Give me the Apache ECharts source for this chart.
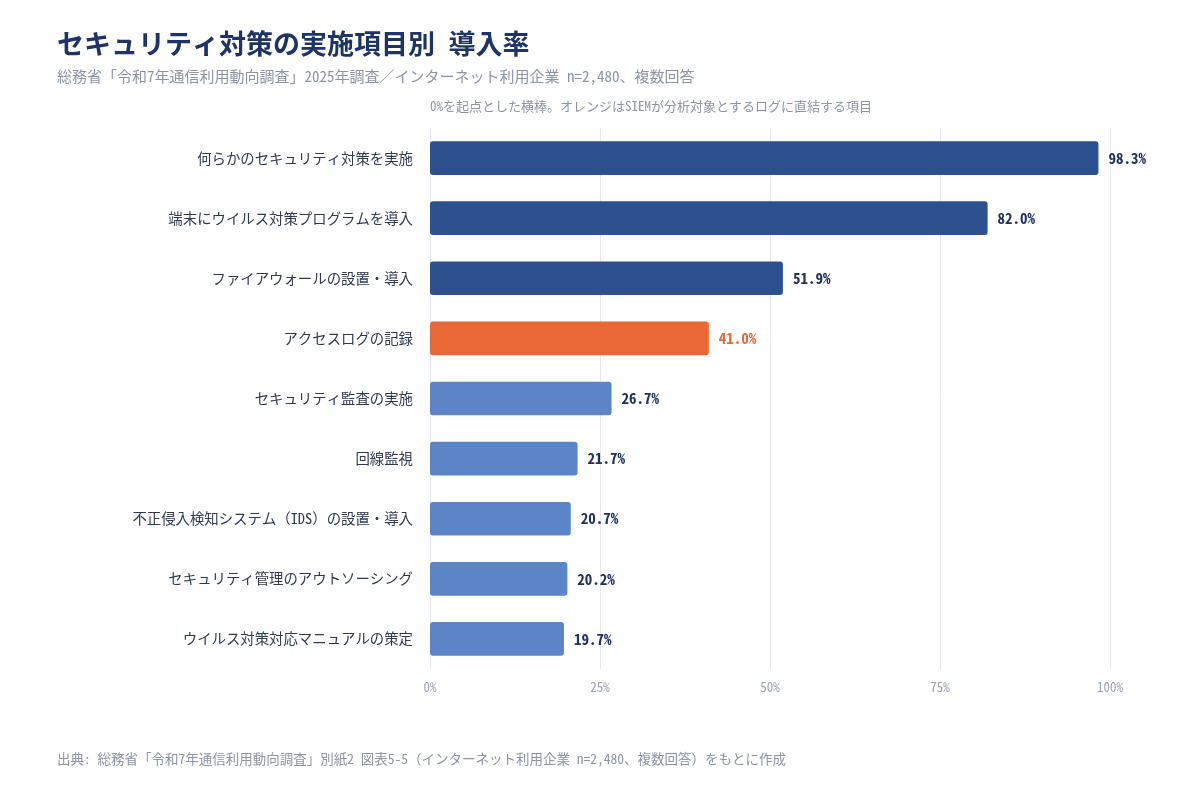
<!DOCTYPE html>
<html><head><meta charset="utf-8">
<script src="https://cdn.jsdelivr.net/npm/echarts@6/dist/echarts.min.js"></script>
<style>html,body{margin:0;padding:0;background:#fff}#c{width:1200px;height:800px}</style>
</head><body><div id="c"></div>
<script>
const categories = [
  "何らかのセキュリティ対策を実施",
  "端末にウイルス対策プログラムを導入",
  "ファイアウォールの設置・導入",
  "アクセスログの記録",
  "セキュリティ監査の実施",
  "回線監視",
  "不正侵入検知システム（IDS）の設置・導入",
  "セキュリティ管理のアウトソーシング",
  "ウイルス対策対応マニュアルの策定"
];
const values = [98.3, 82.0, 51.9, 41.0, 26.7, 21.7, 20.7, 20.2, 19.7];
const groups = ["top", "top", "top", "siem", "other", "other", "other", "other", "other"];
const xTicks = [0, 25, 50, 75, 100];

const FONT = "'Noto Sans Mono CJK JP','Noto Sans CJK JP',monospace";
const colorMap = { top: "#2d518f", siem: "#ea6835", other: "#5c85c8" };
const labelColorMap = { top: "#1f3160", siem: "#ea6835", other: "#1f3160" };

const chart = echarts.init(document.getElementById('c'));
chart.setOption({
  backgroundColor: '#fff',
  textStyle: { fontFamily: FONT },
  title: [
    { text: "セキュリティ対策の実施項目別 導入率", left: 57, top: 30, padding: 0,
      textStyle: { fontFamily: FONT, fontSize: 27, fontWeight: 'bold', color: '#1e3466' } },
    { text: "総務省「令和7年通信利用動向調査」2025年調査／インターネット利用企業 n=2,480、複数回答", left: 57, top: 69, padding: 0,
      textStyle: { fontFamily: FONT, fontSize: 15, fontWeight: 'normal', color: '#8c94a6' } },
    { text: "0%を起点とした横棒。オレンジはSIEMが分析対象とするログに直結する項目", left: 430, top: 100, padding: 0,
      textStyle: { fontFamily: FONT, fontSize: 13, fontWeight: 'normal', color: '#8c94a6' } },
    { text: "出典: 総務省「令和7年通信利用動向調査」別紙2 図表5-5（インターネット利用企業 n=2,480、複数回答）をもとに作成", left: 57, top: 752, padding: 0,
      textStyle: { fontFamily: FONT, fontSize: 13.5, fontWeight: 'normal', color: '#8c94a6' } }
  ],
  grid: { left: 430, right: 90, top: 128, bottom: 131, containLabel: false },
  xAxis: {
    type: 'value', min: 0, max: 100, interval: 25,
    axisLine: { show: false }, axisTick: { show: false },
    splitLine: { show: true, lineStyle: { color: '#e6e9ef', width: 1 } },
    axisLabel: { formatter: v => xTicks.includes(v) ? v + '%' : '', color: '#9aa1b3', fontSize: 13, margin: 12, fontFamily: FONT }
  },
  yAxis: {
    type: 'category', data: categories, inverse: true,
    axisLine: { show: false }, axisTick: { show: false },
    axisLabel: { color: '#2f3a52', fontSize: 14.4, margin: 17, fontFamily: FONT }
  },
  series: [{
    type: 'bar',
    data: values.map((v, i) => ({
      value: v,
      itemStyle: { color: colorMap[groups[i]] },
      label: { color: labelColorMap[groups[i]] }
    })),
    barWidth: '56%',
    itemStyle: { borderRadius: 3 },
    label: {
      show: true, position: 'right', distance: 10,
      formatter: p => p.value.toFixed(1) + '%',
      fontSize: 15, fontWeight: 'bold', fontFamily: FONT
    },
    animation: false
  }],
  animation: false
});
</script></body></html>
